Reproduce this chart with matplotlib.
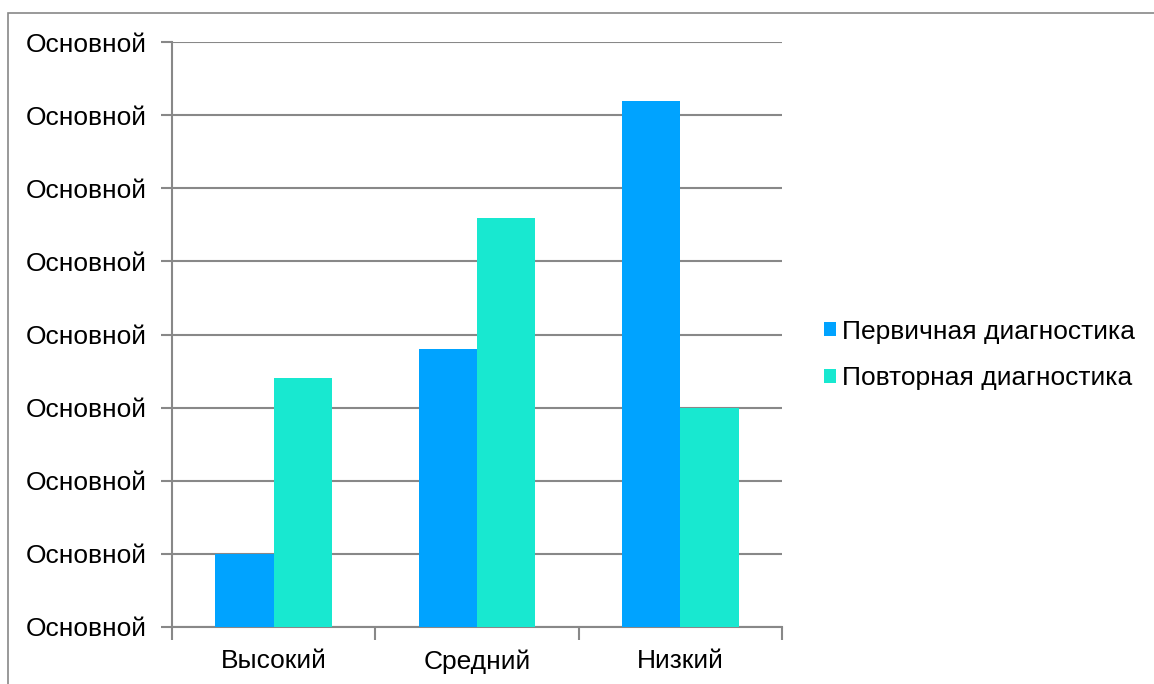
import matplotlib.pyplot as plt
from matplotlib.patches import Rectangle
import numpy as np

plt.rcParams['font.family'] = ['Liberation Sans', 'DejaVu Sans']

categories = ['Высокий', 'Средний', 'Низкий']
series_names = ['Первичная диагностика', 'Повторная диагностика']
primary = [1.0, 3.8, 7.2]
repeat = [3.4, 5.6, 3.0]
y_ticks = [0, 1, 2, 3, 4, 5, 6, 7, 8]
y_tick_labels = ['Основной'] * len(y_ticks)

colors = ['#00a3ff', '#18e8d0']
grey = '#888888'

fig = plt.figure(figsize=(11.54, 6.84), dpi=100)
ax = fig.add_axes([172/1154, 1 - 627/684, 610/1154, 585/684])

x = np.arange(len(categories))
w = 0.2875
ax.bar(x - w/2, primary, w, color=colors[0], label=series_names[0], zorder=3)
ax.bar(x + w/2, repeat, w, color=colors[1], label=series_names[1], zorder=3)

ax.set_xlim(-0.5, len(categories) - 0.5)
ax.set_ylim(0, 8)
ax.set_yticks(y_ticks)
ax.set_yticklabels(y_tick_labels, fontsize=19)
ax.set_xticks(x)
ax.set_xticklabels(categories, fontsize=19)
ax.tick_params(axis='x', length=0, pad=16)
ax.tick_params(axis='y', length=8, width=1.5, color=grey, pad=10)

# category boundary ticks under the x axis
ax.set_xticks(np.arange(len(categories) + 1) - 0.5, minor=True)
ax.tick_params(axis='x', which='minor', length=9, width=1.5, color=grey)

ax.grid(axis='y', color=grey, linewidth=1.5, zorder=0)
for s in ['top', 'right']:
    ax.spines[s].set_visible(False)
for s in ['left', 'bottom']:
    ax.spines[s].set_color(grey)
    ax.spines[s].set_linewidth(1.5)

leg = ax.legend(loc='center left', bbox_to_anchor=(1.047, 0.465), frameon=False,
                fontsize=19, handlelength=0.45, handleheight=0.45,
                handletextpad=0.25, labelspacing=0.85, borderpad=0)

# outer frame around the chart
fig.add_artist(Rectangle((8/1154, -0.1), 2, (684 - 13)/684 + 0.1,
                         transform=fig.transFigure, fill=False,
                         edgecolor=grey, linewidth=1.2))

fig.savefig('out.png', dpi=100)
